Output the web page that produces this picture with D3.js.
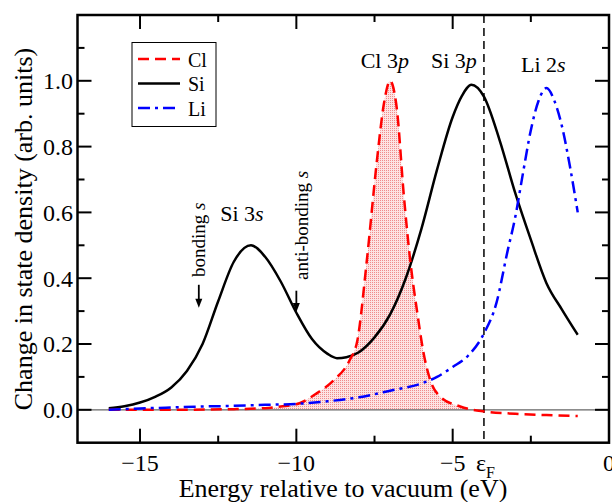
<!DOCTYPE html>
<html>
<head>
<meta charset="utf-8">
<script src="https://cdn.jsdelivr.net/npm/d3@7"></script>
<style>
  body { margin: 0; background: #fff; }
  svg { display: block; }
</style>
</head>
<body>
<svg id="chart"></svg>
<script>
// energies (eV) and change in state density
var siX = [-16, -15.5, -15, -14.5, -14, -13.5, -13, -12.5, -12, -11.45, -11, -10.5, -10, -9.5, -9, -8.7, -8.4, -8, -7.5, -7, -6.5, -6, -5.5, -5, -4.7, -4.4, -4, -3.5, -3, -2.5, -2, -1.5, -1]
var siY = [0.005, 0.011, 0.022, 0.04, 0.068, 0.118, 0.2, 0.33, 0.45, 0.5, 0.465, 0.39, 0.295, 0.215, 0.17, 0.157, 0.16, 0.175, 0.22, 0.29, 0.4, 0.55, 0.73, 0.89, 0.955, 0.988, 0.952, 0.82, 0.659, 0.517, 0.385, 0.304, 0.228]

var clX = [-16, -14, -12, -11, -10.5, -9.9, -9.35, -8.8, -8.3, -8.05, -7.75, -7.42, -7.2, -7, -6.9, -6.78, -6.57, -6.36, -6.14, -5.93, -5.72, -5.4, -4.76, -4, -3, -2, -1]
var clY = [0, 0, 0.002, 0.005, 0.01, 0.02, 0.05, 0.09, 0.15, 0.21, 0.45, 0.76, 0.93, 1.0, 0.98, 0.91, 0.66, 0.456, 0.3, 0.172, 0.091, 0.04, 0.01, -0.005, -0.012, -0.016, -0.019]

var liX = [-16, -15, -14, -13, -12, -11, -10, -9, -8, -7, -6, -5.5, -5, -4.5, -4, -3.6, -3.25, -3, -2.75, -2.5, -2.25, -2, -1.75, -1.5, -1.25, -1]
var liY = [0, 0.004, 0.007, 0.01, 0.012, 0.015, 0.018, 0.026, 0.038, 0.058, 0.08, 0.1, 0.13, 0.165, 0.232, 0.325, 0.48, 0.585, 0.72, 0.85, 0.94, 0.978, 0.94, 0.86, 0.74, 0.6]

var fermi = -4.0
var xTicks = [-15, -10, -5, 0]
var xMinor = [-12.5, -7.5, -2.5]
var yTicks = [0, 0.2, 0.4, 0.6, 0.8, 1.0]
var yMinor = [0.1, 0.3, 0.5, 0.7, 0.9, 1.1]

var seriesNames = ["Cl", "Si", "Li"]
var seriesColors = ["#ff0000", "#000000", "#0000ff"]
var seriesDash = ["11,6", null, "12,5,3,5"]

var width = 612, height = 502
var font = "'Liberation Serif', 'Times New Roman', serif"

var svg = d3.select("#chart")
    .attr("width", width)
    .attr("height", height)
    .attr("font-family", font)

var x = d3.scaleLinear().domain([-17, 0]).range([77.5, 609])
var y = d3.scaleLinear().domain([-0.1, 1.2]).range([442.7, 15])

var zip = (xs, ys) => xs.map((v, i) => [v, ys[i]])
var si = zip(siX, siY), cl = zip(clX, clY), li = zip(liX, liY)

var line = d3.line()
    .x(d => x(d[0]))
    .y(d => y(d[1]))
    .curve(d3.curveMonotoneX)

// dotted pink fill under the Cl peak
var defs = svg.append("defs")
var pat = defs.append("pattern")
    .attr("id", "dots")
    .attr("patternUnits", "userSpaceOnUse")
    .attr("width", 2).attr("height", 2)
pat.append("rect").attr("width", 2).attr("height", 2).attr("fill", "#fde3e3")
pat.append("rect").attr("width", 1).attr("height", 1).attr("fill", "#f08c8c")

var area = d3.area()
    .x(d => x(d[0]))
    .y0(y(0))
    .y1(d => y(d[1]))
    .curve(d3.curveMonotoneX)

svg.append("path")
    .datum(cl.filter(d => d[0] <= fermi))
    .attr("d", area)
    .attr("fill", "url(#dots)")

// zero line
svg.append("line")
    .attr("x1", x(-17)).attr("x2", x(0))
    .attr("y1", y(0)).attr("y2", y(0))
    .attr("stroke", "#666").attr("stroke-width", 1.2)

// Fermi level
svg.append("line")
    .attr("x1", x(fermi)).attr("x2", x(fermi))
    .attr("y1", y(1.2)).attr("y2", y(-0.1))
    .attr("stroke", "#000").attr("stroke-width", 1.5)
    .attr("stroke-dasharray", "8,5")

var curves = [cl, si, li]
// draw Si first, then Cl, then Li
;[1, 0, 2].forEach(i => {
    svg.append("path")
        .datum(curves[i])
        .attr("d", line)
        .attr("fill", "none")
        .attr("stroke", seriesColors[i])
        .attr("stroke-width", 2.5)
        .attr("stroke-dasharray", seriesDash[i])
})

// frame and ticks
svg.append("rect")
    .attr("x", x(-17)).attr("y", y(1.2))
    .attr("width", x(0) - x(-17)).attr("height", y(-0.1) - y(1.2))
    .attr("fill", "none").attr("stroke", "#000").attr("stroke-width", 2.5)

var ticks = svg.append("g").attr("stroke", "#000").attr("stroke-width", 2)
function xTick(v, len) {
    ticks.append("line").attr("x1", x(v)).attr("x2", x(v)).attr("y1", y(-0.1)).attr("y2", y(-0.1) - len)
    ticks.append("line").attr("x1", x(v)).attr("x2", x(v)).attr("y1", y(1.2)).attr("y2", y(1.2) + len)
}
function yTick(v, len) {
    ticks.append("line").attr("x1", x(-17)).attr("x2", x(-17) + len).attr("y1", y(v)).attr("y2", y(v))
    ticks.append("line").attr("x1", x(0)).attr("x2", x(0) - len).attr("y1", y(v)).attr("y2", y(v))
}
xTicks.forEach(v => xTick(v, 14))
xMinor.forEach(v => xTick(v, 7))
yTicks.forEach(v => yTick(v, 14))
yMinor.forEach(v => yTick(v, 7))

svg.append("g")
    .attr("font-size", 24)
    .attr("text-anchor", "middle")
    .selectAll("text")
    .data(xTicks)
    .join("text")
    .attr("x", d => x(d))
    .attr("y", 471)
    .text(d => d3.format("d")(d))

svg.append("g")
    .attr("font-size", 24)
    .attr("text-anchor", "end")
    .selectAll("text")
    .data(yTicks)
    .join("text")
    .attr("x", 73)
    .attr("y", d => y(d))
    .attr("dy", "0.35em")
    .text(d => d3.format(".1f")(d))

// epsilon_F label under the dashed line
var ef = svg.append("text")
    .attr("x", x(fermi) - 8)
    .attr("y", 471)
    .attr("font-size", 24)
ef.append("tspan").text("\u03b5")
ef.append("tspan").attr("font-size", 16).attr("dy", 7).text("F")

// axis titles
svg.append("text")
    .attr("x", 343)
    .attr("y", 497)
    .attr("text-anchor", "middle")
    .attr("font-size", 26)
    .text("Energy relative to vacuum (eV)")

svg.append("text")
    .attr("transform", "translate(32,229) rotate(-90)")
    .attr("text-anchor", "middle")
    .attr("font-size", 26)
    .text("Change in state density (arb. units)")

// peak labels
var peaks = [
    {a: "Cl 3", b: "p", x: -7.17, y: 68},
    {a: "Si 3", b: "p", x: -4.96, y: 68},
    {a: "Li 2", b: "s", x: -2.1, y: 72},
    {a: "Si 3", b: "s", x: -11.74, y: 221}
]
var pl = svg.append("g")
    .attr("font-size", 22)
    .attr("text-anchor", "middle")
    .selectAll("text")
    .data(peaks)
    .join("text")
    .attr("x", d => x(d.x))
    .attr("y", d => d.y)
pl.append("tspan").text(d => d.a)
pl.append("tspan").attr("font-style", "italic").text(d => d.b)

// bonding / anti-bonding arrows
var marks = [
    {t: "bonding ", x: -13.12, top: 0.38, bot: 0.31, tx: 198, ty: 277},
    {t: "anti-bonding ", x: -10.0, top: 0.362, bot: 0.297, tx: 301, ty: 280}
]
marks.forEach(m => {
    var t = svg.append("text")
        .attr("transform", `translate(${m.tx},${m.ty}) rotate(-90)`)
        .attr("dy", "0.35em")
        .attr("font-size", 19)
    t.append("tspan").text(m.t)
    t.append("tspan").attr("font-style", "italic").text("s")
    var ax = x(m.x)
    svg.append("line")
        .attr("x1", ax).attr("x2", ax)
        .attr("y1", y(m.top)).attr("y2", y(m.bot) - 4)
        .attr("stroke", "#000").attr("stroke-width", 1.8)
    svg.append("path")
        .attr("d", `M${ax - 3.5},${y(m.bot) - 9} L${ax + 3.5},${y(m.bot) - 9} L${ax},${y(m.bot)} Z`)
        .attr("fill", "#000")
})

// legend
var lg = svg.append("g")
lg.append("rect")
    .attr("x", 132).attr("y", 42.5)
    .attr("width", 84).attr("height", 84)
    .attr("fill", "#fff").attr("stroke", "#000").attr("stroke-width", 1)
seriesNames.forEach((n, i) => {
    var ly = 59 + i * 24.5
    lg.append("line")
        .attr("x1", 138).attr("x2", 180)
        .attr("y1", ly).attr("y2", ly)
        .attr("stroke", seriesColors[i])
        .attr("stroke-width", 2.5)
        .attr("stroke-dasharray", seriesDash[i])
    lg.append("text")
        .attr("x", 188).attr("y", ly + 7.5)
        .attr("font-size", 20)
        .text(n)
})
</script>
</body>
</html>
